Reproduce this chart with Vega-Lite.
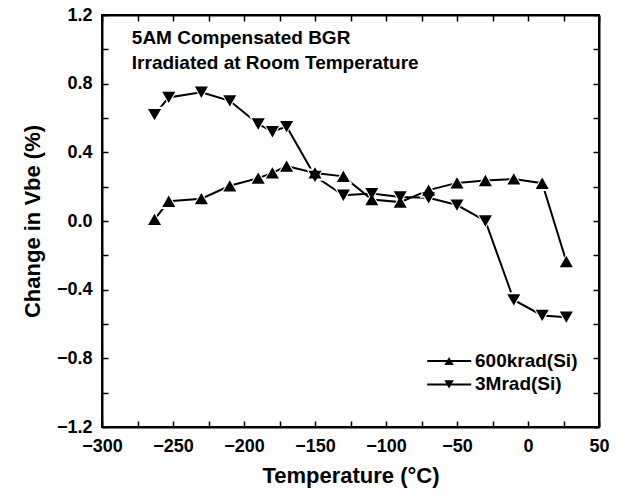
{
  "$schema": "https://vega.github.io/schema/vega-lite/v6.json",
  "width": 497,
  "height": 412,
  "autosize": {"type": "none"},
  "padding": {"left": 102, "top": 15, "right": 33, "bottom": 72},
  "background": "white",
  "config": {
    "font": "Liberation Sans",
    "view": {"stroke": "black", "strokeWidth": 2},
    "axis": {
      "domainColor": "black",
      "domainWidth": 2,
      "tickColor": "black",
      "tickWidth": 1.5,
      "tickSize": -6,
      "labelFont": "Liberation Sans",
      "labelFontWeight": "bold",
      "labelFontSize": 18,
      "labelColor": "black",
      "titleFont": "Liberation Sans",
      "titleFontWeight": "bold",
      "titleFontSize": 22,
      "titleColor": "black",
      "grid": false,
      "labelFlush": false,
      "labelOverlap": false
    }
  },
  "datasets": {
    "main": [
      {"T": -263, "V": 0.01, "series": "600krad(Si)"},
      {"T": -253, "V": 0.115, "series": "600krad(Si)"},
      {"T": -230, "V": 0.13, "series": "600krad(Si)"},
      {"T": -210, "V": 0.205, "series": "600krad(Si)"},
      {"T": -190, "V": 0.25, "series": "600krad(Si)"},
      {"T": -180, "V": 0.28, "series": "600krad(Si)"},
      {"T": -170, "V": 0.32, "series": "600krad(Si)"},
      {"T": -150, "V": 0.28, "series": "600krad(Si)"},
      {"T": -130, "V": 0.26, "series": "600krad(Si)"},
      {"T": -110, "V": 0.125, "series": "600krad(Si)"},
      {"T": -90, "V": 0.11, "series": "600krad(Si)"},
      {"T": -70, "V": 0.18, "series": "600krad(Si)"},
      {"T": -50, "V": 0.222, "series": "600krad(Si)"},
      {"T": -30, "V": 0.236, "series": "600krad(Si)"},
      {"T": -10, "V": 0.245, "series": "600krad(Si)"},
      {"T": 10, "V": 0.22, "series": "600krad(Si)"},
      {"T": 27, "V": -0.236, "series": "600krad(Si)"},
      {"T": -263, "V": 0.62, "series": "3Mrad(Si)"},
      {"T": -253, "V": 0.72, "series": "3Mrad(Si)"},
      {"T": -230, "V": 0.75, "series": "3Mrad(Si)"},
      {"T": -210, "V": 0.70, "series": "3Mrad(Si)"},
      {"T": -190, "V": 0.565, "series": "3Mrad(Si)"},
      {"T": -180, "V": 0.52, "series": "3Mrad(Si)"},
      {"T": -170, "V": 0.55, "series": "3Mrad(Si)"},
      {"T": -150, "V": 0.26, "series": "3Mrad(Si)"},
      {"T": -130, "V": 0.15, "series": "3Mrad(Si)"},
      {"T": -110, "V": 0.16, "series": "3Mrad(Si)"},
      {"T": -90, "V": 0.14, "series": "3Mrad(Si)"},
      {"T": -70, "V": 0.135, "series": "3Mrad(Si)"},
      {"T": -50, "V": 0.093, "series": "3Mrad(Si)"},
      {"T": -30, "V": 0.0, "series": "3Mrad(Si)"},
      {"T": -10, "V": -0.46, "series": "3Mrad(Si)"},
      {"T": 10, "V": -0.55, "series": "3Mrad(Si)"},
      {"T": 27, "V": -0.56, "series": "3Mrad(Si)"}
    ]
  },
  "resolve": {"axis": {"x": "independent", "y": "independent"}},
  "layer": [
    {
      "data": {"name": "main"},
      "mark": {"type": "point", "opacity": 0},
      "encoding": {
        "x": {"field": "T", "type": "quantitative",
          "scale": {"domain": [-300, 50], "nice": false, "zero": false},
          "axis": {"orient": "top", "labels": false, "title": null,
            "values": [-300,-275,-250,-225,-200,-175,-150,-125,-100,-75,-50,-25,0,25,50]}},
        "y": {"field": "V", "type": "quantitative",
          "scale": {"domain": [-1.2, 1.2], "nice": false, "zero": false},
          "axis": {"orient": "right", "labels": false, "title": null,
            "values": [-1.2,-1.0,-0.8,-0.6,-0.4,-0.2,0,0.2,0.4,0.6,0.8,1.0,1.2]}}
      }
    },
    {
      "data": {"name": "main"},
      "mark": {"type": "line", "color": "black", "strokeWidth": 2},
      "encoding": {
        "x": {"field": "T", "type": "quantitative",
          "scale": {"domain": [-300, 50], "nice": false, "zero": false},
          "axis": {"orient": "bottom", "title": "Temperature (°C)", "labelPadding": 16, "titlePadding": 10,
            "values": [-300,-275,-250,-225,-200,-175,-150,-125,-100,-75,-50,-25,0,25,50],
            "labelExpr": "datum.value % 50 === 0 ? datum.label : ''"}},
        "y": {"field": "V", "type": "quantitative",
          "scale": {"domain": [-1.2, 1.2], "nice": false, "zero": false},
          "axis": {"orient": "left", "title": "Change in Vbe (%)", "labelPadding": 16, "titlePadding": 12,
            "values": [-1.2,-1.0,-0.8,-0.6,-0.4,-0.2,0,0.2,0.4,0.6,0.8,1.0,1.2],
            "labelExpr": "abs(round(datum.value * 10)) % 4 === 0 ? format(datum.value, '.1f') : ''"}},
        "detail": {"field": "series"}
      }
    },
    {
      "data": {"values": [{}]},
      "mark": {"type": "rule", "color": "black", "strokeWidth": 2},
      "encoding": {
        "x": {"datum": -300, "type": "quantitative", "axis": null},
        "x2": {"datum": 50},
        "y": {"datum": 1.2, "type": "quantitative", "axis": null}
      }
    },
    {
      "data": {"values": [{}]},
      "mark": {"type": "rule", "color": "black", "strokeWidth": 2},
      "encoding": {
        "x": {"datum": -300, "type": "quantitative", "axis": null},
        "x2": {"datum": 50},
        "y": {"datum": -1.2, "type": "quantitative", "axis": null}
      }
    },
    {
      "data": {"values": [{}]},
      "mark": {"type": "rule", "color": "black", "strokeWidth": 2},
      "encoding": {
        "x": {"datum": -300, "type": "quantitative", "axis": null},
        "y": {"datum": -1.2, "type": "quantitative", "axis": null},
        "y2": {"datum": 1.2}
      }
    },
    {
      "data": {"values": [{}]},
      "mark": {"type": "rule", "color": "black", "strokeWidth": 2},
      "encoding": {
        "x": {"datum": 50, "type": "quantitative", "axis": null},
        "y": {"datum": -1.2, "type": "quantitative", "axis": null},
        "y2": {"datum": 1.2}
      }
    },
    {
      "data": {"name": "main"},
      "transform": [{"filter": "datum.series === '600krad(Si)'"}],
      "mark": {"type": "point", "filled": true, "fill": "white", "opacity": 1, "size": 320, "shape": "triangle-up"},
      "encoding": {
        "x": {"field": "T", "type": "quantitative", "axis": null},
        "y": {"field": "V", "type": "quantitative", "axis": null}
      }
    },
    {
      "data": {"name": "main"},
      "transform": [{"filter": "datum.series === '3Mrad(Si)'"}],
      "mark": {"type": "point", "filled": true, "fill": "white", "opacity": 1, "size": 320, "shape": "triangle-down"},
      "encoding": {
        "x": {"field": "T", "type": "quantitative", "axis": null},
        "y": {"field": "V", "type": "quantitative", "axis": null}
      }
    },
    {
      "data": {"name": "main"},
      "transform": [{"filter": "datum.series === '600krad(Si)'"}],
      "mark": {"type": "point", "filled": true, "fill": "black", "opacity": 1, "size": 170, "shape": "triangle-up"},
      "encoding": {
        "x": {"field": "T", "type": "quantitative", "axis": null},
        "y": {"field": "V", "type": "quantitative", "axis": null}
      }
    },
    {
      "data": {"name": "main"},
      "transform": [{"filter": "datum.series === '3Mrad(Si)'"}],
      "mark": {"type": "point", "filled": true, "fill": "black", "opacity": 1, "size": 170, "shape": "triangle-down"},
      "encoding": {
        "x": {"field": "T", "type": "quantitative", "axis": null},
        "y": {"field": "V", "type": "quantitative", "axis": null}
      }
    },
    {
      "data": {"values": [{}]},
      "mark": {"type": "text", "align": "left", "baseline": "middle", "font": "Liberation Sans", "fontWeight": "bold", "fontSize": 19, "color": "black"},
      "encoding": {
        "x": {"datum": -279, "type": "quantitative", "axis": null},
        "y": {"datum": 1.066, "type": "quantitative", "axis": null},
        "text": {"value": "5AM Compensated BGR"}
      }
    },
    {
      "data": {"values": [{}]},
      "mark": {"type": "text", "align": "left", "baseline": "middle", "font": "Liberation Sans", "fontWeight": "bold", "fontSize": 19, "color": "black"},
      "encoding": {
        "x": {"datum": -279, "type": "quantitative", "axis": null},
        "y": {"datum": 0.92, "type": "quantitative", "axis": null},
        "text": {"value": "Irradiated at Room Temperature"}
      }
    },
    {
      "data": {"values": [{}]},
      "mark": {"type": "rule", "color": "black", "strokeWidth": 2},
      "encoding": {
        "x": {"datum": -71, "type": "quantitative", "axis": null},
        "x2": {"datum": -40},
        "y": {"datum": -0.8155, "type": "quantitative", "axis": null}
      }
    },
    {
      "data": {"values": [{}]},
      "mark": {"type": "rule", "color": "black", "strokeWidth": 2},
      "encoding": {
        "x": {"datum": -71, "type": "quantitative", "axis": null},
        "x2": {"datum": -40},
        "y": {"datum": -0.952, "type": "quantitative", "axis": null}
      }
    },
    {
      "data": {"values": [{}]},
      "mark": {"type": "point", "filled": true, "fill": "black", "opacity": 1, "size": 90, "shape": "triangle-up"},
      "encoding": {
        "x": {"datum": -55.6, "type": "quantitative", "axis": null},
        "y": {"datum": -0.8155, "type": "quantitative", "axis": null}
      }
    },
    {
      "data": {"values": [{}]},
      "mark": {"type": "point", "filled": true, "fill": "black", "opacity": 1, "size": 90, "shape": "triangle-down"},
      "encoding": {
        "x": {"datum": -55.6, "type": "quantitative", "axis": null},
        "y": {"datum": -0.952, "type": "quantitative", "axis": null}
      }
    },
    {
      "data": {"values": [{}]},
      "mark": {"type": "text", "align": "left", "baseline": "middle", "font": "Liberation Sans", "fontWeight": "bold", "fontSize": 19, "color": "black"},
      "encoding": {
        "x": {"datum": -37.3, "type": "quantitative", "axis": null},
        "y": {"datum": -0.8155, "type": "quantitative", "axis": null},
        "text": {"value": "600krad(Si)"}
      }
    },
    {
      "data": {"values": [{}]},
      "mark": {"type": "text", "align": "left", "baseline": "middle", "font": "Liberation Sans", "fontWeight": "bold", "fontSize": 19, "color": "black"},
      "encoding": {
        "x": {"datum": -37.3, "type": "quantitative", "axis": null},
        "y": {"datum": -0.952, "type": "quantitative", "axis": null},
        "text": {"value": "3Mrad(Si)"}
      }
    }
  ]
}
